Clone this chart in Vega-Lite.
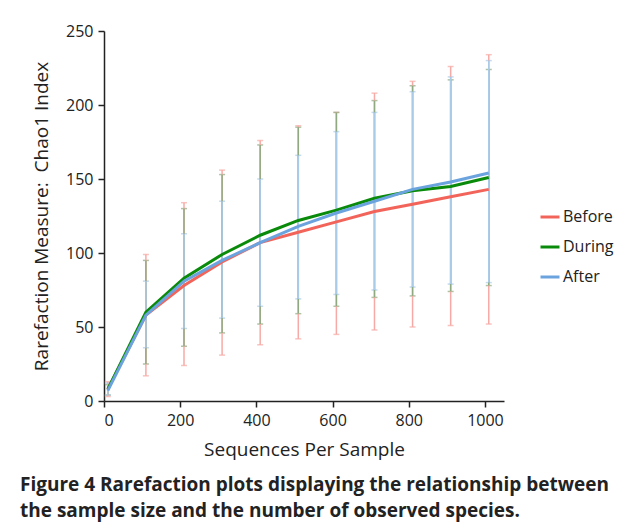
{
  "$schema": "https://vega.github.io/schema/vega-lite/v6.json",
  "width": 400,
  "height": 370,
  "autosize": {"type": "none"},
  "padding": {"left": 104, "top": 31, "right": 121, "bottom": 130},
  "background": "white",
  "config": {
    "view": {"stroke": null},
    "font": "Open Sans",
    "axis": {"grid": false, "domainColor": "#222", "domainWidth": 1.5, "tickColor": "#222", "tickWidth": 1.5, "tickSize": 6, "labelFontSize": 16, "labelColor": "#222", "titleFontSize": 19, "titleFontWeight": "normal", "titleColor": "#222", "labelFont": "Open Sans", "titleFont": "Open Sans", "labelPadding": 5}
  },
  "title": {
    "text": ["Figure 4 Rarefaction plots displaying the relationship between", "the sample size and the number of observed species."],
    "orient": "bottom",
    "anchor": "start",
    "frame": "group",
    "dx": -84,
    "offset": 17,
    "fontSize": 19,
    "fontWeight": "bold",
    "font": "Open Sans",
    "color": "#222",
    "lineHeight": 26
  },
  "resolve": {"scale": {"color": "independent"}},
  "data": {"values": [
    {"g": "Before", "x": 10, "m": 8, "lo": 3, "hi": 13},
    {"g": "Before", "x": 110, "m": 58, "lo": 17, "hi": 99},
    {"g": "Before", "x": 210, "m": 78, "lo": 24, "hi": 134},
    {"g": "Before", "x": 310, "m": 94, "lo": 31, "hi": 156},
    {"g": "Before", "x": 410, "m": 107, "lo": 38, "hi": 176},
    {"g": "Before", "x": 510, "m": 114, "lo": 42, "hi": 186},
    {"g": "Before", "x": 610, "m": 121, "lo": 45, "hi": 195},
    {"g": "Before", "x": 710, "m": 128, "lo": 48, "hi": 208},
    {"g": "Before", "x": 810, "m": 133, "lo": 50, "hi": 216},
    {"g": "Before", "x": 910, "m": 138, "lo": 51, "hi": 226},
    {"g": "Before", "x": 1010, "m": 143, "lo": 52, "hi": 234},
    {"g": "During", "x": 10, "m": 8, "lo": 4, "hi": 11},
    {"g": "During", "x": 110, "m": 60, "lo": 25, "hi": 95},
    {"g": "During", "x": 210, "m": 83, "lo": 37, "hi": 130},
    {"g": "During", "x": 310, "m": 99, "lo": 46, "hi": 153},
    {"g": "During", "x": 410, "m": 112, "lo": 52, "hi": 173},
    {"g": "During", "x": 510, "m": 122, "lo": 59, "hi": 185},
    {"g": "During", "x": 610, "m": 129, "lo": 64, "hi": 195},
    {"g": "During", "x": 710, "m": 137, "lo": 70, "hi": 203},
    {"g": "During", "x": 810, "m": 142, "lo": 71, "hi": 213},
    {"g": "During", "x": 910, "m": 145, "lo": 74, "hi": 217},
    {"g": "During", "x": 1010, "m": 151, "lo": 78, "hi": 224},
    {"g": "After", "x": 10, "m": 7, "lo": 4, "hi": 12},
    {"g": "After", "x": 110, "m": 58, "lo": 36, "hi": 81},
    {"g": "After", "x": 210, "m": 81, "lo": 49, "hi": 113},
    {"g": "After", "x": 310, "m": 95, "lo": 56, "hi": 135},
    {"g": "After", "x": 410, "m": 107, "lo": 64, "hi": 150},
    {"g": "After", "x": 510, "m": 118, "lo": 69, "hi": 166},
    {"g": "After", "x": 610, "m": 127, "lo": 72, "hi": 182},
    {"g": "After", "x": 710, "m": 135, "lo": 75, "hi": 195},
    {"g": "After", "x": 810, "m": 143, "lo": 77, "hi": 209},
    {"g": "After", "x": 910, "m": 148, "lo": 79, "hi": 219},
    {"g": "After", "x": 1010, "m": 154, "lo": 80, "hi": 230}
  ]},
  "layer": [
    {
      "mark": {"type": "errorbar", "ticks": {"size": 6}, "thickness": 1.5},
      "encoding": {
        "x": {"field": "x", "type": "quantitative", "scale": {"domain": [0, 1050], "nice": false}, "axis": {"values": [0, 200, 400, 600, 800, 1000], "format": "d", "title": "Sequences Per Sample", "titlePadding": 12}},
        "y": {"field": "lo", "type": "quantitative", "scale": {"domain": [0, 250], "nice": false}, "axis": {"values": [0, 50, 100, 150, 200, 250], "title": "Rarefaction Measure:\u00a0 Chao1 Index", "titlePadding": 14}},
        "y2": {"field": "hi"},
        "color": {"field": "g", "type": "nominal", "scale": {"domain": ["Before", "During", "After"], "range": ["#F7AAA5", "#8FAA80", "#AACBE8"]}, "legend": null}
      }
    },
    {
      "mark": {"type": "line", "strokeWidth": 3},
      "encoding": {
        "x": {"field": "x", "type": "quantitative"},
        "y": {"field": "m", "type": "quantitative"},
        "color": {"field": "g", "type": "nominal", "scale": {"domain": ["Before", "During", "After"], "range": ["#F2645A", "#0A8A0A", "#6BA3DE"]}, "legend": {"title": null, "orient": "none", "legendX": 435, "legendY": 175, "symbolType": "stroke", "symbolSize": 360, "symbolStrokeWidth": 3, "labelFontSize": 16, "labelColor": "#222", "labelFont": "Open Sans", "rowPadding": 11, "labelOffset": 2}},
        "order": {"field": "g"}
      }
    }
  ]
}
